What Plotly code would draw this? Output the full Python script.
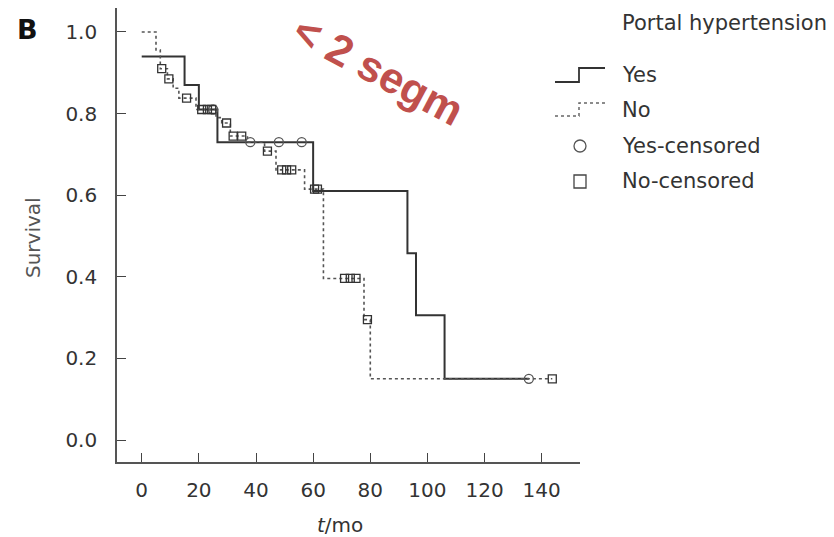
import plotly.graph_objects as go

# ---------------- data ----------------
yes_t = [0, 15, 20, 26.5, 60, 93, 96, 106, 135.5]
yes_s = [0.94, 0.87, 0.81, 0.73, 0.61, 0.458, 0.306, 0.15, 0.15]

no_t = [0, 5, 6.5, 9, 11, 13, 19, 26, 28, 31, 37, 43, 47, 57, 63.6, 77.8, 80, 143.7]
no_s = [1.0, 0.956, 0.91, 0.885, 0.862, 0.838, 0.81, 0.79, 0.777, 0.745, 0.73,
        0.708, 0.662, 0.615, 0.396, 0.295, 0.15, 0.15]

yes_cens_t = [25, 38, 48, 56, 135.5]
yes_cens_s = [0.81, 0.73, 0.73, 0.73, 0.15]

no_cens_t = [7, 9.5, 15.7, 21, 23, 24.5, 29.7, 32, 35, 44, 49, 50.7, 52.5,
             60.5, 61.5, 71, 73, 75, 79, 143.7]
no_cens_s = [0.91, 0.885, 0.838, 0.81, 0.81, 0.81, 0.777, 0.745, 0.745, 0.708,
             0.662, 0.662, 0.662, 0.615, 0.615, 0.396, 0.396, 0.396, 0.295, 0.15]

x_ticks = [0, 20, 40, 60, 80, 100, 120, 140]
y_ticks = [0.0, 0.2, 0.4, 0.6, 0.8, 1.0]
y_tick_text = ["0.0", "0.2", "0.4", "0.6", "0.8", "1.0"]

legend_title = "Portal hypertension"
legend_labels = ["Yes", "No", "Yes-censored", "No-censored"]

# ---------------- layout geometry ----------------
W, H = 834, 537
L, R, T, B = 117, 580, 8, 462  # plot area in pixels


def px(x):
    return (x - L) / (R - L)


def py(y):
    return (B - y) / (B - T)


FONT = "DejaVu Sans, Verdana, sans-serif"
LINE = "#333333"

fig = go.Figure()

fig.add_trace(go.Scatter(x=yes_t, y=yes_s, mode="lines", line_shape="hv",
                         line=dict(color=LINE, width=2), showlegend=False,
                         name="Yes"))
fig.add_trace(go.Scatter(x=no_t, y=no_s, mode="lines", line_shape="hv",
                         line=dict(color="#555555", width=1.6, dash="3px,3px"),
                         showlegend=False, name="No"))
fig.add_trace(go.Scatter(x=yes_cens_t, y=yes_cens_s, mode="markers",
                         marker=dict(symbol="circle-open", size=9, color="#555555",
                                     line=dict(width=1.3)),
                         showlegend=False, name="Yes-censored"))
fig.add_trace(go.Scatter(x=no_cens_t, y=no_cens_s, mode="markers",
                         marker=dict(symbol="square-open", size=8, color="#333333",
                                     line=dict(width=1.3)),
                         showlegend=False, name="No-censored"))

shapes = []
annotations = []


def note(x, y, text, size, color="#333", angle=0, family=FONT, xanchor="center"):
    annotations.append(dict(x=px(x), y=py(y), xref="paper", yref="paper",
                            text=text, showarrow=False, textangle=angle,
                            xanchor=xanchor, yanchor="middle",
                            font=dict(family=family, size=size, color=color)))


# legend title and labels
note(620, 23, legend_title, 21, xanchor="left")
leg_y = [75, 110, 146, 181]
for lab, yy in zip(legend_labels, leg_y):
    note(620, yy, lab, 21, xanchor="left")


def path(points):
    return "M " + " L ".join(f"{px(a):.5f},{py(b):.5f}" for a, b in points)


shapes.append(dict(type="path", xref="paper", yref="paper",
                   path=path([(555, 82), (579, 82), (579, 68), (605, 68)]),
                   line=dict(color=LINE, width=1.8)))
shapes.append(dict(type="path", xref="paper", yref="paper",
                   path=path([(555, 116), (579, 116), (579, 103), (605, 103)]),
                   line=dict(color="#666666", width=1.5, dash="3px,3px")))
shapes.append(dict(type="circle", xref="paper", yref="paper",
                   x0=px(574), x1=px(586), y0=py(152), y1=py(140),
                   line=dict(color="#555555", width=1.3)))
shapes.append(dict(type="rect", xref="paper", yref="paper",
                   x0=px(574), x1=px(586), y0=py(188), y1=py(175),
                   line=dict(color="#444444", width=1.3)))

# axis titles
note(33, 238, "Survival", 20, color="#555", angle=-90)
note(340, 525, "<i>t</i>/mo", 20)
# panel label
note(27, 29, "<b>B</b>", 27, color="#111")
# red overlay text
note(378, 70, "<b>&lt; 2 segm</b>", 43, color="#c0504d", angle=28,
     family="Liberation Sans, Arial, sans-serif")

fig.update_layout(
    width=W, height=H,
    margin=dict(l=L, r=W - R, t=T, b=H - B, pad=0),
    paper_bgcolor="white", plot_bgcolor="white",
    shapes=shapes, annotations=annotations,
    showlegend=False,
    xaxis=dict(range=[-8.65, 153.4], tickvals=x_ticks, ticks="inside",
               ticklen=9, tickcolor="#444", tickwidth=1.3,
               showline=True, linecolor="#555", linewidth=1.6,
               showgrid=False, zeroline=False, ticklabelstandoff=9,
               tickfont=dict(family=FONT, size=20, color="#333")),
    yaxis=dict(range=[-0.0539, 1.0588], tickvals=y_ticks, ticktext=y_tick_text,
               ticks="inside", ticklen=9, tickcolor="#444", tickwidth=1.3,
               showline=True, linecolor="#555", linewidth=1.6,
               showgrid=False, zeroline=False, ticklabelstandoff=14,
               tickfont=dict(family=FONT, size=20, color="#333")),
)

fig.write_html("out.html", config={"displayModeBar": False},
               post_script="document.body.style.margin='0px';")
